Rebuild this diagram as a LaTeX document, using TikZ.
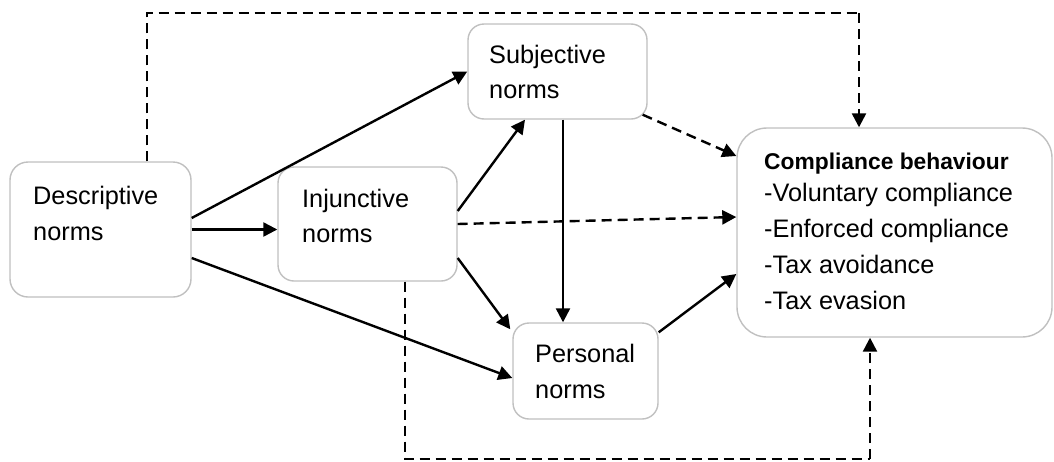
\documentclass[tikz,border=0pt]{standalone}
\usepackage{fontspec}
\setmainfont{Liberation Sans}
\usetikzlibrary{arrows.meta}
\definecolor{boxline}{HTML}{C0C0C0}
\begin{document}
\begin{tikzpicture}[x=1pt,y=-1pt,
  box/.style={draw=boxline, line width=1.4pt, fill=white, rectangle, inner sep=0pt},
  lbl/.style={anchor=base west, inner sep=0pt,
    font=\fontsize{25.3}{36}\selectfont},
  arr/.style={line width=2.4pt, -{Triangle[length=14pt,width=14pt]}},
  darr/.style={arr, dash pattern=on 10pt off 6pt},
  dline/.style={line width=2.4pt, dash pattern=on 10pt off 6pt}]
\useasboundingbox (0,0) rectangle (1054,461);

% boxes
\node[box, rounded corners=18pt, minimum width=181pt, minimum height=135pt] (desc) at (100.5,229.5) {};
\node[box, rounded corners=16pt, minimum width=179pt, minimum height=114pt] (inj) at (367.5,224) {};
\node[box, rounded corners=16pt, minimum width=179pt, minimum height=95pt] (subj) at (557.5,71.5) {};
\node[box, rounded corners=16pt, minimum width=145pt, minimum height=96pt] (pers) at (585.5,371) {};
\node[box, rounded corners=30pt, minimum width=315pt, minimum height=209pt] (comp) at (894.5,232.5) {};

% labels, one node per printed line
\node[lbl] (descA) at (33,204) {Descriptive};
\node[lbl] (descB) at (33,240) {norms};
\node[lbl] (injA) at (302,207) {Injunctive};
\node[lbl] (injB) at (302,242) {norms};
\node[lbl] (subjA) at (489,63) {Subjective};
\node[lbl] (subjB) at (489,98) {norms};
\node[lbl] (persA) at (535,362) {Personal};
\node[lbl] (persB) at (535,398) {norms};
\node[lbl, font=\fontsize{22.8}{27}\selectfont\bfseries] (compT) at (764,169) {Compliance behaviour};
\node[lbl] (compA) at (764,201) {-Voluntary compliance};
\node[lbl] (compB) at (764,237) {-Enforced compliance};
\node[lbl] (compC) at (764,273) {-Tax avoidance};
\node[lbl] (compD) at (764,309) {-Tax evasion};

% solid paths
\draw[arr] ([yshift=11.5pt]desc.east) -- (subj.west);
\draw[arr] (desc.east) -- (desc.east -| inj.west);
\draw[arr] ([yshift=-28.5pt]desc.east) -- ([yshift=-7pt]pers.west);
\draw[arr] ([yshift=13pt]inj.east) -- ([xshift=-32.5pt]subj.south);
\draw[arr] ([yshift=-34pt]inj.east) -- ([xshift=-2pt,yshift=-7pt]pers.north west);
\draw[arr] ([xshift=5.5pt]subj.south) -- ([xshift=5.5pt]subj.south |- pers.north);
\draw[arr] ([yshift=-10pt]pers.north east) -- ([yshift=-41.5pt]comp.west);

% dashed paths
\draw[darr] (inj.east) -- ([yshift=15.5pt]comp.west);
\draw[darr] ([xshift=-5pt,yshift=5pt]subj.south east) -- ([yshift=76.5pt]comp.west);
\coordinate (topL) at (147,13);
\coordinate (topR) at (859,13);
\draw[dline] ([xshift=46.5pt]desc.north) -- (topL) -- (topR);
\draw[darr] (topR) -- ([xshift=-35.5pt]comp.north);
\coordinate (botL) at (405,459);
\coordinate (botR) at (870,459);
\draw[dline] ([xshift=37.5pt]inj.south) -- (botL) -- (botR);
\draw[darr] (botR) -- ([xshift=-24.5pt]comp.south);
\end{tikzpicture}
\end{document}
